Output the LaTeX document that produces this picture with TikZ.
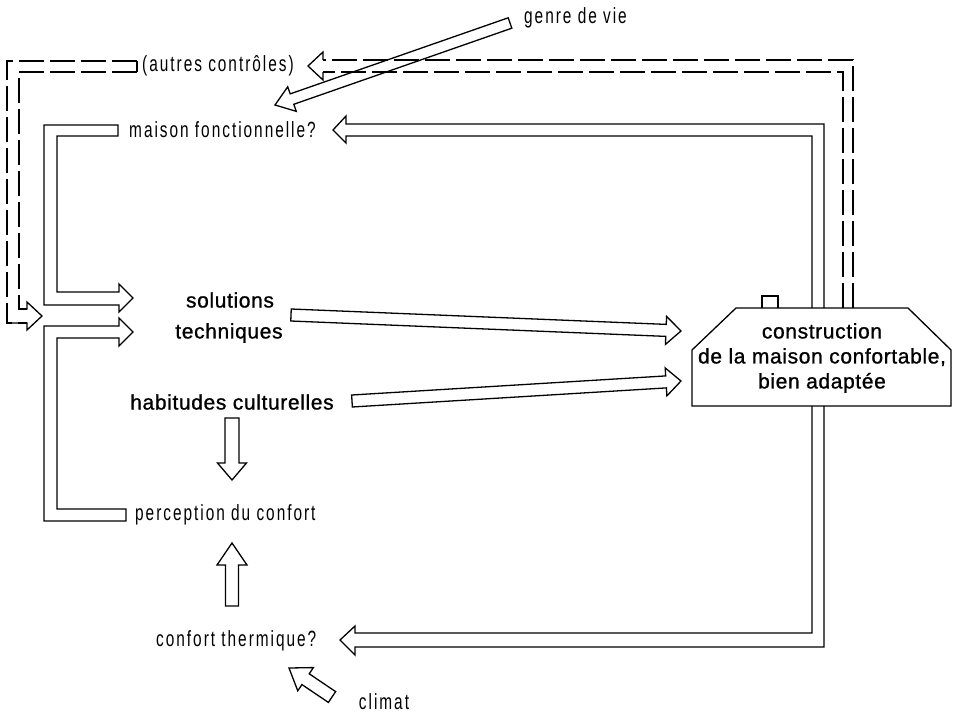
\documentclass[tikz,border=0pt]{standalone}
\usepackage{fontspec}
\usetikzlibrary{calc}
\newfontfamily\thinfont[FakeStretch=0.7,LetterSpace=9]{Liberation Sans}
\newfontfamily\medfont[LetterSpace=3,FakeBold=1]{Liberation Sans}
\tikzset{
  pipe/.style={draw=black,line width=1.3pt,line join=miter},
  dpipe/.style={pipe,dash pattern=on 25pt off 6pt},
  thintxt/.style={font=\thinfont\fontsize{22}{24}\selectfont,inner sep=0pt},
  medtxt/.style={font=\medfont\fontsize{21}{25}\selectfont,inner sep=0pt,align=center},
}
\newcommand\blockarr[5]{%
  \path ($(#2)!#5!(#1)$) coordinate (ba-base);
  \draw[pipe] ($(#1)!#3!90:(#2)$) -- ($(ba-base)!#3!90:(#2)$) -- ($(ba-base)!#4!90:(#2)$) -- (#2)
    -- ($(ba-base)!#4!-90:(#2)$) -- ($(ba-base)!#3!-90:(#2)$) -- ($(#1)!#3!-90:(#2)$) -- cycle;
}
\begin{document}
\begin{tikzpicture}[x=1pt,y=-1pt]
\fill[white] (0,0) rectangle (953,715);
\useasboundingbox (0,0) rectangle (953,715);

% texts
\node[thintxt,anchor=west] (genre) at (524,18) {genre de vie};
\node[thintxt,anchor=west] (autres) at (142,66) {(autres contrôles)};
\node[thintxt,anchor=west] (maison) at (129,130) {maison fonctionnelle?};
\node[medtxt] (sol) at (230,300) {solutions};
\node[medtxt] (tech) at (229,333) {techniques};
\node[medtxt] (hab) at (232,402) {habitudes culturelles};
\node[thintxt,anchor=west] (perc) at (135,515) {perception du confort};
\node[thintxt,anchor=west] (conf) at (156,641) {confort thermique?};
\node[thintxt] (climat) at (384,702) {climat};

% house
\draw[pipe] (692,406) -- (692,350) -- (736,308) -- (908,308) -- (951,350) -- (951,406) -- cycle;
\draw[pipe] (762,308) -- (762,296) -- (778,296) -- (778,308);
\node[medtxt] (house) at (822,358) {construction\\de la maison confortable,\\bien adaptée};

% top solid pipe: house -> maison fonctionnelle
\draw[pipe] (812,308) -- (812,136) -- (346,136) -- (346,143) -- (333,130) -- (346,116) -- (346,124) -- (824,124) -- (824,308);
% dashed pipe: house -> autres controles
\draw[dpipe] (843,308) -- (843,72) -- (323,72);
\draw[dpipe] (853,308) -- (853,60) -- (323,60);
\draw[pipe] (323,72) -- (323,80) -- (308,66) -- (323,52) -- (323,60);
% bottom pipe: house -> confort thermique
\draw[pipe] (812,406) -- (812,633) -- (355,633) -- (355,626) -- (340,640) -- (355,655) -- (355,647) -- (824,647) -- (824,406);

% left dashed pipe: autres controles -> junction
\draw[pipe] (137,61) -- (137,72);
\draw[dpipe] (137,61) -- (7,61) -- (7,323) -- (27,323);
\draw[dpipe] (137,72) -- (19,72) -- (19,309) -- (27,309);
\draw[pipe] (19,300) -- (19,309) -- (27,309) -- (27,302) -- (42,316) -- (27,330) -- (27,323) -- (7,323) -- (7,314);

% left solid brackets
\draw[pipe] (118,136) -- (57,136) -- (57,292) -- (119,292) -- (119,284) -- (133,298) -- (119,312) -- (119,305) -- (44,305) -- (44,125) -- (118,125) -- cycle;
\draw[pipe] (119,326) -- (119,318) -- (133,332) -- (119,346) -- (119,338) -- (57,338) -- (57,509) -- (126,509) -- (126,521) -- (44,521) -- (44,326) -- cycle;

% block arrows
\coordinate (gA) at (510,23); \coordinate (gB) at (275,105);
\blockarr{gA}{gB}{5.5pt}{13pt}{18pt}
\coordinate (sA) at (291,315); \coordinate (sB) at (681,331);
\blockarr{sA}{sB}{6pt}{14pt}{15pt}
\coordinate (hA) at (352,401); \coordinate (hB) at (681,381);
\blockarr{hA}{hB}{6pt}{14pt}{15pt}
\coordinate (dA) at (232,418); \coordinate (dB) at (232,480);
\blockarr{dA}{dB}{7pt}{14.5pt}{17pt}
\coordinate (uA) at (232,606); \coordinate (uB) at (232,543);
\blockarr{uA}{uB}{6.5pt}{15pt}{22pt}
\coordinate (cA) at (332,697); \coordinate (cB) at (289,668);
\blockarr{cA}{cB}{6.5pt}{14pt}{20pt}
\end{tikzpicture}
\end{document}
